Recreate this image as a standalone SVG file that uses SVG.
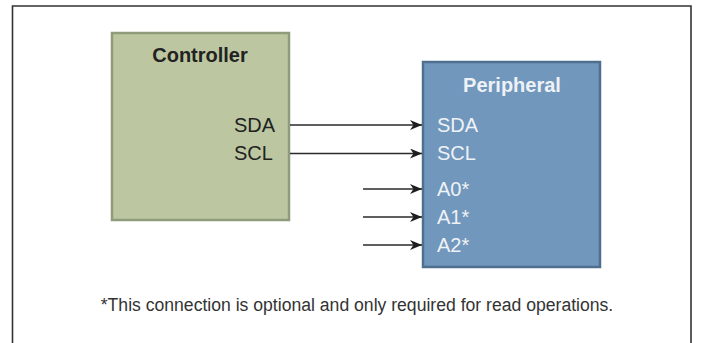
<svg xmlns="http://www.w3.org/2000/svg" width="704" height="343" viewBox="0 0 704 343">
  <defs>
    <marker id="arrow" markerWidth="13" markerHeight="10" refX="12" refY="5" orient="auto" markerUnits="userSpaceOnUse">
      <path d="M0,0 L12,5 L0,10 L3.5,5 Z" fill="#1e1e1e"/>
    </marker>
  </defs>
  <style>
    .frame { fill: none; stroke: #333; stroke-width: 1.6; }
    .ctrl { fill: #bcc7a1; stroke: #8e9c7c; stroke-width: 2.5; }
    .peri { fill: #7197bc; stroke: #4f6f90; stroke-width: 2.5; }
    .title { font-family: "Liberation Sans", Arial, sans-serif; font-weight: bold; font-size: 20px; text-anchor: middle; }
    .pin { font-family: "Liberation Sans", Arial, sans-serif; font-size: 20px; }
    .dark { fill: #222; }
    .light { fill: #eef2f7; }
    .note { font-family: "Liberation Sans", Arial, sans-serif; font-size: 17.6px; fill: #333; text-anchor: middle; }
    .wire { stroke: #2a2a2a; stroke-width: 1.5; fill: none; marker-end: url(#arrow); }
  </style>
  <rect width="704" height="343" fill="#fff"/>
  <path class="frame" d="M12.5,350 L12.5,6 L691,6 L691,350"/>

  <g id="controller">
    <rect class="ctrl" x="112" y="33" width="177" height="187"/>
    <text class="title dark" x="200" y="62">Controller</text>
    <text class="pin dark" x="234" y="132">SDA</text>
    <text class="pin dark" x="234" y="160">SCL</text>
  </g>

  <g id="peripheral">
    <rect class="peri" x="423" y="62" width="177" height="205"/>
    <text class="title light" x="512" y="92">Peripheral</text>
    <text class="pin light" x="437" y="132">SDA</text>
    <text class="pin light" x="437" y="160">SCL</text>
    <text class="pin light" x="437" y="196">A0*</text>
    <text class="pin light" x="437" y="224">A1*</text>
    <text class="pin light" x="437" y="252">A2*</text>
  </g>

  <g id="connectors">
    <line class="wire" x1="290" y1="125" x2="422" y2="125"/>
    <line class="wire" x1="290" y1="153.5" x2="422" y2="153.5"/>
    <line class="wire" x1="363" y1="189" x2="422" y2="189"/>
    <line class="wire" x1="363" y1="217" x2="422" y2="217"/>
    <line class="wire" x1="363" y1="245" x2="422" y2="245"/>
  </g>

  <text id="footnote" class="note" x="357" y="311">*This connection is optional and only required for read operations.</text>
</svg>
